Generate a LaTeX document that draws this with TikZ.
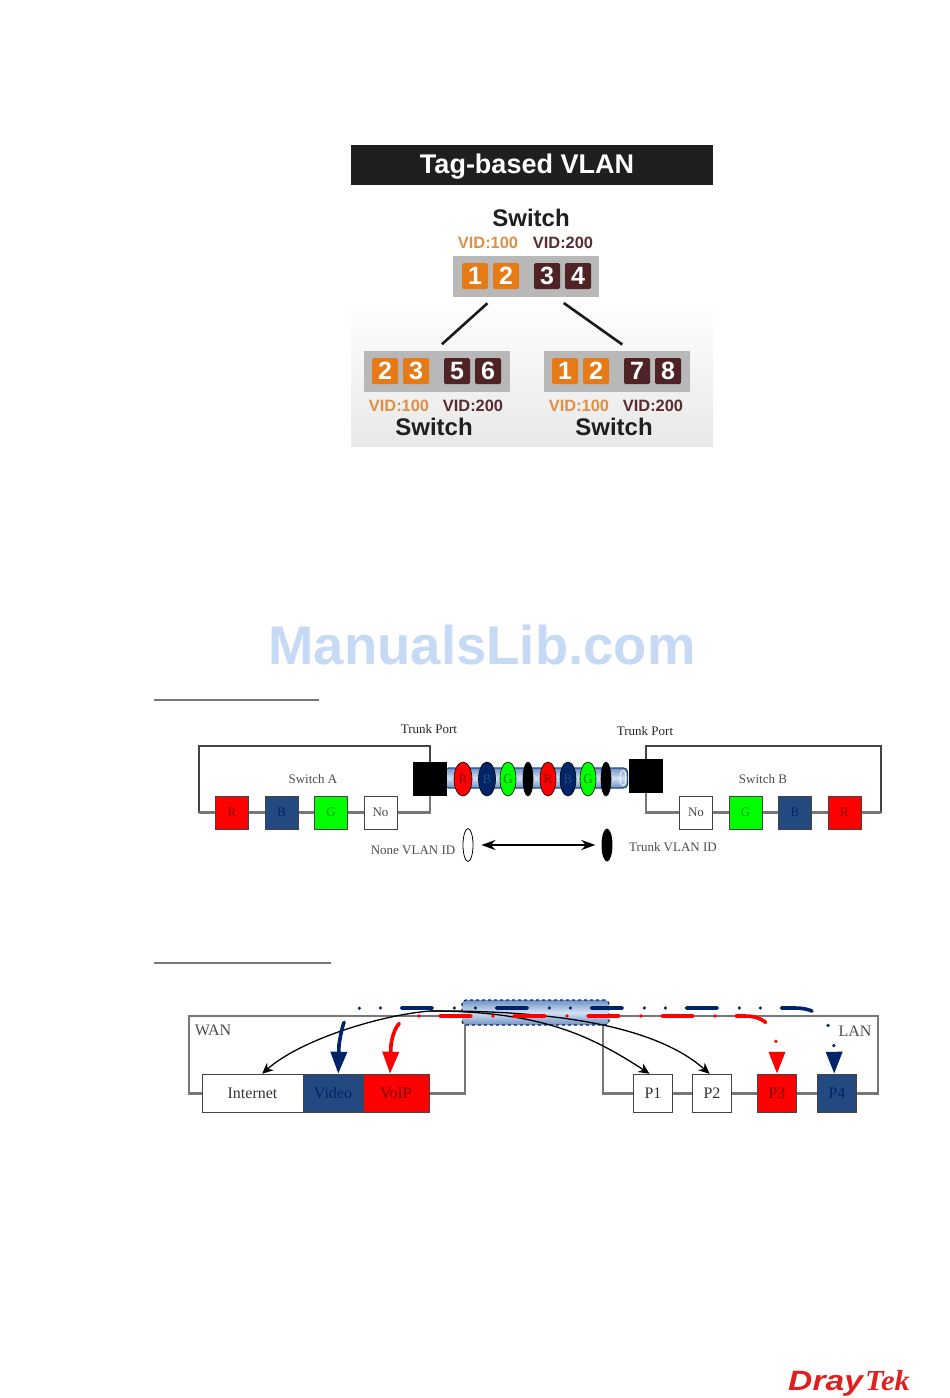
\documentclass[tikz,border=0pt]{standalone}
\usepackage{fontspec}
\setmainfont{Liberation Serif}
\newfontfamily\headfont{Liberation Sans}
\usetikzlibrary{positioning,shapes.geometric,arrows.meta}

\definecolor{keyorange}{HTML}{E67A17}
\definecolor{keybrown}{HTML}{4F2226}
\definecolor{vidorange}{HTML}{E08F45}
\definecolor{vidbrown}{HTML}{5A2C30}
\definecolor{portnavy}{HTML}{234A80}
\definecolor{flownavy}{HTML}{002468}
\definecolor{wiregray}{HTML}{777777}
\definecolor{edgegray}{HTML}{444444}
\definecolor{logored}{HTML}{DE2020}
\definecolor{marktint}{HTML}{C6DAF5}
\definecolor{tubeedge}{HTML}{6F92C4}
\definecolor{tubemid}{HTML}{D3E1F2}

\tikzset{
    keybox/.style={minimum size=26pt,inner sep=0pt,rounded corners=1.5pt,text=white,
        font=\headfont\bfseries\fontsize{25}{25}\selectfont},
    orangekey/.style={keybox,fill=keyorange},
    brownkey/.style={keybox,fill=keybrown},
    keypanel/.style={fill=black!28,minimum width=146pt,minimum height=41pt,inner sep=0pt},
    headlabel/.style={inner sep=0pt,font=\headfont\bfseries\fontsize{24}{24}\selectfont,text=black!88},
    vidlabel/.style={inner sep=0pt,font=\headfont\bfseries\fontsize{16.4}{16.4}\selectfont},
    link/.style={line width=2.6pt,black!90},
    portbox/.style={draw=edgegray,line width=1pt,minimum size=33pt,inner sep=0pt,
        font=\fontsize{13}{13}\selectfont},
    lanbox/.style={portbox,minimum size=38.5pt,font=\fontsize{16}{16}\selectfont},
    note/.style={inner sep=0pt,text=black!70,font=\fontsize{13}{13}\selectfont},
    wire/.style={wiregray,line width=2.6pt},
    frame/.style={edgegray,line width=1.6pt},
    vlantag/.style={ellipse,draw=black,line width=.6pt,minimum width=18pt,minimum height=34pt,inner sep=0pt,
        font=\fontsize{13}{13}\selectfont},
    redtag/.style={vlantag,fill=red,text=red!50!black},
    navytag/.style={vlantag,fill=flownavy,text=portnavy},
    greentag/.style={vlantag,fill=green,text=green!50!black},
    blacktag/.style={vlantag,fill=black,minimum width=10pt},
    tube/.style={rounded corners=4pt,inner sep=0pt,draw=portnavy,line width=1.2pt,
        top color=tubeedge,bottom color=tubeedge,middle color=tubemid},
    navyflow/.style={flownavy,line width=3.6pt,line cap=round,
        dash pattern=on 31pt off 22pt on 0pt off 21pt on 0pt off 21pt,
        {Triangle[length=22pt,width=16pt]}-{Triangle[length=22pt,width=16pt]}},
    redflow/.style={red,line width=3.6pt,line cap=round,
        dash pattern=on 31pt off 22pt on 0pt off 21pt,
        {Triangle[length=22pt,width=16pt]}-{Triangle[length=22pt,width=16pt]}},
    blackflow/.style={black,line width=1.3pt,-{Stealth[length=11pt,width=10pt]}}
}

\begin{document}
\begin{tikzpicture}[x=1pt,y=-1pt,node distance=31pt]
    \fill[white] (0,0) rectangle (950,1398);
    \useasboundingbox (0,0) rectangle (950,1398);

    % title and lower backdrop
    \node[fill=black!88,minimum width=362pt,minimum height=40pt,inner sep=0pt] (titlebar) at (532,165) {};
    \node[inner sep=0pt,text=white,font=\headfont\bfseries\fontsize{27}{27}\selectfont] (title) at (527,167) {Tag-based VLAN};
    \node[top color=white,bottom color=black!9,minimum width=362pt,minimum height=147pt,inner sep=0pt] (backdrop) at (532,372.5) {};

    % top switch
    \node[headlabel] (swtop) at (531,218) {Switch};
    \node[vidlabel,text=vidorange] (vidtopa) at (488,243) {VID:100};
    \node[vidlabel,text=vidbrown] (vidtopb) at (563,243) {VID:200};
    \node[keypanel] (paneltop) at (526,276.5) {};
    \node[orangekey] (ta) at (475,276) {1};
    \node[orangekey,right of=ta] (tb) {2};
    \node[brownkey,right of=tb,xshift=10pt] (tc) {3};
    \node[brownkey,right of=tc] (td) {4};

    % left switch
    \node[keypanel] (panelleft) at (437,371) {};
    \node[orangekey] (la) at (385,371) {2};
    \node[orangekey,right of=la] (lb) {3};
    \node[brownkey,right of=lb,xshift=10pt] (lc) {5};
    \node[brownkey,right of=lc] (ld) {6};
    \node[vidlabel,text=vidorange] (vidlefta) at (399,406) {VID:100};
    \node[vidlabel,text=vidbrown] (vidleftb) at (473,406) {VID:200};
    \node[headlabel] (swleft) at (434,427) {Switch};

    % right switch
    \node[keypanel] (panelright) at (617,371) {};
    \node[orangekey] (ra) at (565,371) {1};
    \node[orangekey,right of=ra] (rb) {2};
    \node[brownkey,right of=rb,xshift=10pt] (rc) {7};
    \node[brownkey,right of=rc] (rd) {8};
    \node[vidlabel,text=vidorange] (vidrighta) at (579,406) {VID:100};
    \node[vidlabel,text=vidbrown] (vidrightb) at (653,406) {VID:200};
    \node[headlabel] (swright) at (614,427) {Switch};

    \draw[link,shorten <=9pt,shorten >=9pt] (paneltop.213) -- (panelleft.95);
    \draw[link,shorten <=10pt,shorten >=10pt] (paneltop.325) -- (panelright.57);

    % watermark
    \node[inner sep=0pt,text=marktint,font=\headfont\bfseries\fontsize{54.5}{54}\selectfont] (watermark) at (482,645) {ManualsLib.com};

    % trunk figure
    \coordinate (rulea) at (154,700);
    \coordinate (ruleb) at (319,700);
    \draw[wiregray,line width=1.2pt] (rulea) -- (ruleb);

    \node[tube,minimum width=183pt,minimum height=20pt] (trunk) at (536,778) {};
    \node[ellipse,draw=white,line width=.8pt,minimum width=6pt,minimum height=15pt,inner sep=0pt] (trunkend) at (623,778) {};

    \node[fill=black,minimum size=34pt,inner sep=0pt] (trunka) at (430,779) {};
    \node[fill=black,minimum size=34pt,inner sep=0pt] (trunkb) at (646,776) {};
    \node[note,text=black!85] (labela) at (429,729) {Trunk Port};
    \node[note,text=black!85] (labelb) at (645,731) {Trunk Port};
    \node[note] (namea) at (313,779) {Switch A};
    \node[note] (nameb) at (763,779) {Switch B};

    \begin{scope}[node distance=49.5pt]
        \node[portbox,fill=red,text=red!55!black] (ar) at (232,812.5) {R};
        \node[portbox,fill=portnavy,text=flownavy,right of=ar] (ab) {B};
        \node[portbox,fill=green,text=green!60!black,right of=ab] (ag) {G};
        \node[portbox,fill=white,text=black!70,right of=ag] (an) {No};
        \node[portbox,fill=white,text=black!70] (bn) at (696,812.5) {No};
        \node[portbox,fill=green,text=green!60!black,right of=bn] (bg) {G};
        \node[portbox,fill=portnavy,text=flownavy,right of=bg] (bb) {B};
        \node[portbox,fill=red,text=red!55!black,right of=bb] (br) {R};
    \end{scope}

    \coordinate (framea) at (199,746);
    \coordinate (frameb) at (881,746);
    \draw[frame] (trunka.north) |- (framea) -- (ar.west -| framea);
    \draw[frame] (trunkb.north) |- (frameb) -- (br.east -| frameb);
    \draw[wire] (ar.west) -- (ar.west -| framea);
    \draw[wire] (ar) -- (ab);
    \draw[wire] (ab) -- (ag);
    \draw[wire] (ag) -- (an);
    \draw[wire] (an.east) -| (trunka.south);
    \draw[wire] (bn.west) -| (trunkb.south);
    \draw[wire] (bn) -- (bg);
    \draw[wire] (bg) -- (bb);
    \draw[wire] (bb) -- (br);
    \draw[wire] (br.east) -- (br.east -| frameb);

    \node[redtag] (tag1) at (463,779) {R};
    \node[navytag,minimum width=17pt] (tag2) at (487,779) {B};
    \node[greentag,minimum width=16pt] (tag3) at (508,779) {G};
    \node[blacktag] (tag4) at (528,779) {};
    \node[redtag,minimum width=16pt] (tag5) at (548,779) {R};
    \node[navytag,minimum width=16pt] (tag6) at (568,779) {B};
    \node[greentag,minimum width=16pt] (tag7) at (588,779) {G};
    \node[blacktag] (tag8) at (606,779) {};

    \node[ellipse,draw=black,line width=.8pt,fill=white,minimum width=10pt,minimum height=33pt,inner sep=0pt] (noneid) at (468,845) {};
    \node[ellipse,fill=black,minimum width=11pt,minimum height=33pt,inner sep=0pt] (trunkid) at (607,845) {};
    \node[note] (nonelabel) at (413,850) {None VLAN ID};
    \node[note] (trunklabel) at (673,847) {Trunk VLAN ID};
    \draw[{Stealth[length=14pt,width=10pt]}-{Stealth[length=14pt,width=10pt]},line width=2.4pt,shorten <=8pt,shorten >=6pt] (noneid) -- (trunkid);

    % wan / lan figure
    \coordinate (rulec) at (154,963);
    \coordinate (ruled) at (331,963);
    \draw[wiregray,line width=1.2pt] (rulec) -- (ruled);

    \node[lanbox,fill=white,text=black!80,minimum width=101pt] (internet) at (252.5,1093.5) {Internet};
    \node[lanbox,fill=portnavy,text=flownavy,minimum width=60pt] (video) at (333,1093.5) {Video};
    \node[lanbox,fill=red,text=red!45!black,minimum width=66pt] (voip) at (396,1093.5) {VoIP};
    \node[lanbox,fill=white,text=black!80] (p1) at (653,1093.5) {P1};
    \node[lanbox,fill=white,text=black!80,right of=p1,node distance=59pt] (p2) {P2};
    \node[lanbox,fill=red,text=red!45!black] (p3) at (777,1093.5) {P3};
    \node[lanbox,fill=portnavy,text=flownavy,right of=p3,node distance=60pt] (p4) {P4};
    \node[note,font=\fontsize{16}{16}\selectfont] (wan) at (213,1030) {WAN};
    \node[note,font=\fontsize{16}{16}\selectfont] (lan) at (855,1031) {LAN};

    \coordinate (wancorner) at (189,1016);
    \coordinate (wanend) at (465,1016);
    \coordinate (lancorner) at (603,1016);
    \coordinate (lanend) at (878,1016);
    \draw[wire,line width=2.2pt] (internet.west) -| (wancorner) -- (wanend) |- (voip.east);
    \draw[wire,line width=2.2pt] (p1.west) -| (lancorner) -- (lanend) |- (p4.east);
    \draw[wire,line width=2.2pt] (p1) -- (p2);
    \draw[wire,line width=2.2pt] (p2) -- (p3);
    \draw[wire,line width=2.2pt] (p3) -- (p4);

    \node[tube,draw=flownavy,dashed,minimum width=147pt,minimum height=25pt] (pipe) at (535.5,1012.5) {};
    \coordinate (fork) at (430,1011);

    \draw[blackflow] (fork) .. controls (380,1015) and (300,1040) .. (internet.64);
    \draw[blackflow] (fork) .. controls (540,1011) and (590,1035) .. (p1.100);
    \draw[blackflow] (fork) .. controls (570,1010) and (660,1030) .. (p2.97);

    \draw[navyflow] (video.75) -- (339,1045) .. controls (343,1018) and (348,1008) .. (363,1008) -- (795,1008) .. controls (825,1008) and (834,1030) .. (p4.98);
    \draw[redflow] (voip.107) -- (391,1045) .. controls (394,1025) and (402,1016) .. (417,1016) -- (745,1016) .. controls (765,1016) and (777,1028) .. (p3.north);

    % logo
    \node[anchor=base west,inner sep=0pt,text=logored,xscale=1.2,transform shape,font=\headfont\bfseries\itshape\fontsize{28}{28}\selectfont] (dray) at (788,1390) {Dray};
    \node[anchor=base west,inner sep=0pt,text=logored,xscale=1.05,transform shape,font=\bfseries\itshape\fontsize{29}{29}\selectfont] (tek) at (865,1390) {Tek};
\end{tikzpicture}
\end{document}
